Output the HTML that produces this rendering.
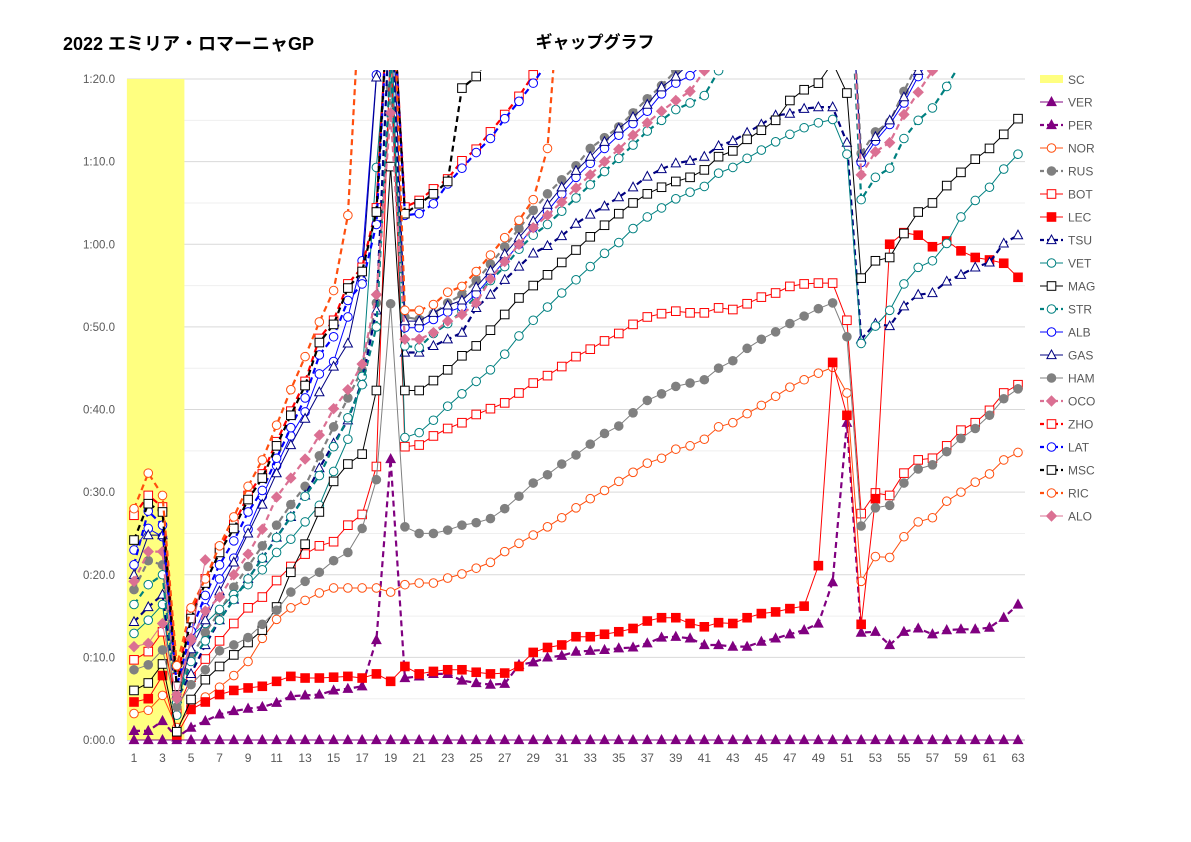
<!DOCTYPE html>
<html><head><meta charset="utf-8">
<style>
body{margin:0;background:#fff;}
svg{display:block;font-family:"Liberation Sans","Noto Sans CJK JP",sans-serif;}
</style></head>
<body>
<svg id="chart" width="1191" height="842" viewBox="0 0 1191 842">
<defs><clipPath id="plotclip"><rect x="110" y="70" width="930" height="690"/></clipPath></defs>
<text x="63" y="50" font-size="18" font-weight="bold" fill="#000">2022 エミリア・ロマーニャGP</text>
<text x="595" y="48" font-size="17" font-weight="bold" fill="#000" text-anchor="middle">ギャップグラフ</text>
<g id="grid"></g>
<g id="sc"></g>
<g id="series" clip-path="url(#plotclip)"></g>
<g id="axes"></g>
<g id="legend"></g>
</svg>
<script>
const laps=[];for(let i=1;i<=63;i++)laps.push(i);
const yTicks=[0,10,20,30,40,50,60,70,80];
const yTickLabels=["0:00.0","0:10.0","0:20.0","0:30.0","0:40.0","0:50.0","1:00.0","1:10.0","1:20.0"];
const scLaps=[1,2,3,4];
const scValue=80;
const N=null;
const VER=[0,0,0,0,0,0,0,0,0,0,0,0,0,0,0,0,0,0,0,0,0,0,0,0,0,0,0,0,0,0,0,0,0,0,0,0,0,0,0,0,0,0,0,0,0,0,0,0,0,0,0,0,0,0,0,0,0,0,0,0,0,0,0];
const PER=[1.1,1.1,2.3,0.3,1.5,2.3,3.1,3.5,3.8,4.0,4.5,5.3,5.4,5.5,6.0,6.2,6.5,12.1,34.0,7.5,7.7,8.0,8.0,7.2,6.9,6.7,6.8,9.1,9.4,10.0,10.2,10.7,10.8,10.9,11.1,11.2,11.7,12.4,12.5,12.3,11.5,11.5,11.3,11.3,11.9,12.3,12.8,13.3,14.1,19.1,38.4,13.0,13.1,11.5,13.1,13.5,12.8,13.3,13.4,13.4,13.6,14.8,16.4];
const NOR=[3.2,3.6,5.4,1.5,4.0,5.2,6.4,7.8,9.5,12.3,14.6,16.0,16.9,17.8,18.4,18.4,18.4,18.4,17.9,18.8,19.0,19.0,19.6,20.1,20.8,21.5,22.8,23.8,24.8,25.8,26.9,28.1,29.2,30.2,31.3,32.4,33.5,34.1,35.2,35.6,36.4,37.9,38.4,39.5,40.5,41.6,42.7,43.6,44.4,45.1,42.0,19.2,22.2,22.1,24.6,26.4,26.9,28.9,30.0,31.2,32.2,33.9,34.8];
const RUS=[18.2,21.7,21.2,5.5,10.0,13.0,15.5,18.5,21.0,23.5,26.0,28.5,30.7,34.4,37.9,41.4,44.8,52.9,78.9,51.2,50.9,51.6,52.9,53.9,55.6,57.6,59.7,61.9,64.1,66.1,67.8,69.5,71.6,72.9,74.2,75.9,77.6,79.2,81,N,N,N,N,N,N,N,N,N,N,N,100,71.0,73.6,74.8,78.5,82,N,N,N,N,N,N,N];
const BOT=[9.7,10.7,13.1,3.5,7.6,9.8,12.0,14.1,16.0,17.3,19.3,21.0,22.5,23.5,24.0,26.0,27.3,33.1,85,35.5,35.7,36.8,37.7,38.4,39.4,40.1,40.8,42.0,43.2,44.1,45.2,46.4,47.3,48.3,49.2,50.3,51.2,51.6,51.9,51.7,51.7,52.3,52.1,52.8,53.6,54.1,54.9,55.2,55.3,55.3,50.8,27.4,29.9,29.6,32.3,33.9,34.1,35.6,37.5,38.4,39.9,42.0,43.0];
const LEC=[4.6,5.0,7.8,0.6,3.7,4.6,5.5,6.0,6.3,6.5,7.1,7.7,7.5,7.5,7.6,7.7,7.5,8.0,7.1,8.9,8.0,8.3,8.5,8.5,8.2,8.0,8.1,8.9,10.6,11.2,11.5,12.5,12.5,12.8,13.1,13.5,14.4,14.8,14.8,14.1,13.7,14.2,14.1,14.8,15.3,15.5,15.9,16.2,21.1,45.7,39.3,14.0,29.2,60.0,61.4,61.1,59.7,60.4,59.2,58.4,58.1,57.7,56.0];
const TSU=[14.3,16.1,17.6,5.0,8.0,11.5,14.5,17.0,19.5,22.0,24.5,27.0,29.6,32.9,35.9,38.7,43.4,52,90,46.9,46.9,47.7,48.5,49.3,52.3,53.9,55.7,57.3,58.9,59.8,61.0,62.5,63.6,64.6,65.7,66.9,68.2,69.1,69.8,70.1,70.6,71.9,72.5,73.5,74.5,75.6,75.8,76.4,76.6,76.6,72.3,48.5,50.4,50.1,52.5,53.9,54.1,55.5,56.3,57.2,57.8,60.1,61.1];
const VET=[12.9,14.5,16.4,3.0,12.5,14.1,15.8,17.6,18.8,20.6,22.7,24.3,26.4,28.4,32.5,36.4,44.0,69.3,90,36.6,37.2,38.7,40.4,41.9,43.4,44.8,46.7,48.9,50.8,52.4,54.1,55.7,57.3,58.9,60.2,61.9,63.3,64.4,65.5,66.3,67.0,68.6,69.3,70.4,71.4,72.4,73.3,74.1,74.7,75.1,70.9,48.0,50.1,52.0,55.2,57.2,58.0,60.1,63.3,65.3,66.9,69.1,70.9];
const MAG=[6.0,6.9,9.2,1.0,4.9,7.3,8.9,10.3,11.8,13.3,16.1,20.3,23.7,27.6,31.3,33.4,34.6,42.3,69.4,42.3,42.3,43.5,44.8,46.5,47.7,49.6,51.5,53.5,55.0,56.3,57.8,59.3,60.9,62.3,63.7,65.0,66.1,66.9,67.6,68.1,69.0,70.6,71.3,72.7,73.8,75.0,77.4,78.7,79.5,82,78.3,55.9,58.0,58.4,61.3,63.9,65.0,67.1,68.7,70.3,71.6,73.3,75.2];
const STR=[16.4,18.8,20.0,4.5,9.5,12.0,14.5,17.0,19.5,22.0,24.5,27.0,29.5,32.0,35.5,39.0,43.0,50.0,82,47.7,47.5,49.2,50.4,51.9,53.7,55.6,57.3,59.4,61.1,62.4,64.0,65.6,67.2,68.8,70.4,72.0,73.7,75.0,76.3,77.1,78.0,81,N,N,N,N,N,N,N,N,100,65.4,68.1,69.2,72.8,75.0,76.5,79.1,82,N,N,N,N];
const ALB=[23.0,25.6,24.6,6.0,12.0,16.0,19.5,22.0,25.5,29.5,33.2,36.8,39.7,44.3,45.8,51.2,58.0,80.5,95,49.9,49.9,50.9,51.8,52.4,54.0,56.0,58.0,60.0,62.0,64.0,66.1,68.1,69.8,71.6,73.2,74.6,76.1,78.2,79.5,80.4,82,N,N,N,N,N,N,N,N,N,100,69.9,72.5,74.5,77.1,80.3,83,N,N,N,N,N,N];
const GAS=[20.0,24.8,24.8,5.5,11.0,14.5,18.0,21.5,25.0,28.5,32.3,35.7,38.9,42.1,45.2,48.0,56.0,80.2,95,50.7,50.7,51.7,52.6,53.2,54.8,56.8,58.8,60.8,62.8,64.8,66.9,68.9,70.6,72.4,74.0,75.4,76.9,79.0,80.3,82,N,N,N,N,N,N,N,N,N,N,100,70.5,73.0,75.0,77.8,81,N,N,N,N,N,N,N];
const HAM=[8.5,9.1,10.9,4.0,6.7,8.5,10.8,11.5,12.4,14.0,15.7,17.9,19.2,20.3,21.7,22.7,25.6,31.5,52.8,25.8,25.0,25.0,25.4,26.0,26.3,26.8,28.0,29.5,31.1,32.1,33.4,34.5,35.8,37.1,38.0,39.6,41.1,41.9,42.8,43.2,43.6,45.0,45.9,47.4,48.5,49.4,50.4,51.3,52.2,52.9,48.8,25.9,28.1,28.4,31.1,32.8,33.3,34.9,36.5,37.7,39.3,41.3,42.5];
const OCO=[19.2,22.8,22.8,5.5,12.0,15.6,17.3,20.0,22.5,25.5,29.4,31.7,34.0,36.9,40.1,42.4,45.5,53.9,75.9,48.5,48.5,49.3,50.7,51.5,52.9,55.8,57.9,60.0,62.0,63.5,65.1,66.8,68.4,70.0,71.5,73.2,74.7,76.1,77.4,78.5,81,N,N,N,N,N,N,N,N,N,100,68.4,71.2,72.3,75.7,78.4,81,N,N,N,N,N,N];
const ZHO=[27.2,29.6,28.2,7.5,15.2,19.5,23.2,26.1,29.6,32.2,36.1,39.8,43.4,48.6,50.8,55.2,57.2,64.4,95,64.5,65.3,66.7,67.9,70.1,71.5,73.6,75.7,77.9,80.5,83,N,N,N,N,N,N,N,N,N,N,N,N,N,N,N,N,N,N,N,N,N,N,N,N,N,N,N,N,N,N,N,N,N];
const LAT=[21.2,27.7,26.0,6.5,13.2,17.5,21.2,24.1,27.6,30.2,34.1,37.8,41.4,46.6,48.8,53.2,55.2,62.4,95,63.5,63.7,64.9,67.3,69.2,71.1,72.8,75.2,77.3,79.5,82,N,N,N,N,N,N,N,N,N,N,N,N,N,N,N,N,N,N,N,N,N,N,N,N,N,N,N,N,N,N,N,N,N];
const MSC=[24.2,28.6,27.6,6.5,14.7,19.0,22.7,25.6,29.1,31.7,35.6,39.3,42.9,48.1,50.3,54.7,56.7,63.9,95,63.7,64.9,66.1,67.6,78.9,80.3,83,N,N,N,N,N,N,N,N,N,N,N,N,N,N,N,N,N,N,N,N,N,N,N,N,N,N,N,N,N,N,N,N,N,N,N,N,N];
const RIC=[28.0,32.3,29.6,9.0,16.0,19.5,23.5,27.0,30.7,33.9,38.1,42.4,46.4,50.6,54.4,63.5,95,100,100,52.0,52.0,52.7,54.2,54.9,56.7,58.7,60.8,62.9,65.4,71.6,95,N,N,N,N,N,N,N,N,N,N,N,N,N,N,N,N,N,N,N,N,N,N,N,N,N,N,N,N,N,N,N,N];
const ALO=[11.3,11.7,14.1,5.0,12.3,21.8,N,N,N,N,N,N,N,N,N,N,N,N,N,N,N,N,N,N,N,N,N,N,N,N,N,N,N,N,N,N,N,N,N,N,N,N,N,N,N,N,N,N,N,N,N,N,N,N,N,N,N,N,N,N,N,N,N];

const NS="http://www.w3.org/2000/svg";
const X0=134,XSTEP=(1018-134)/62,Y0=740,YSCALE=(740-79)/80;
function xs(l){return X0+(l-1)*XSTEP;}
function ys(v){return Y0-v*YSCALE;}
function mk(tag,attrs,parent){const e=document.createElementNS(NS,tag);for(const k in attrs)e.setAttribute(k,attrs[k]);parent.appendChild(e);return e;}

const grid=document.getElementById('grid');
for(let v=5;v<=80;v+=10){
  const gl=mk('line',{x1:127,x2:1025,y1:ys(v),y2:ys(v),stroke:'#efefef','stroke-width':1},grid);
  
  
}
yTicks.forEach((v,i)=>{
  const gl=mk('line',{x1:127,x2:1025,y1:ys(v),y2:ys(v),stroke:v===0?'#bfbfbf':'#d9d9d9','stroke-width':1},grid);
  
  
  const t=mk('text',{x:115,y:ys(v)+4,'font-size':11.5,fill:'#595959','text-anchor':'end'},grid);
  t.textContent=yTickLabels[i];
  
  
});
const axes=document.getElementById('axes');
laps.forEach(l=>{
  if(l%2===1){
    const t=mk('text',{x:xs(l),y:762,'font-size':12,fill:'#595959','text-anchor':'middle'},axes);
    t.textContent=String(l);
    
    
  }
});
const sc=document.getElementById('sc');
scLaps.forEach(l=>{
  const r=mk('rect',{x:xs(l)-XSTEP/2,y:ys(scValue),width:XSTEP+0.5,height:ys(0)-ys(scValue),fill:'#ffff80'},sc);
  
  
});

const series=[
 {name:'VER',data:VER,color:'#800080',dash:false,marker:'tri',fill:true},
 {name:'PER',data:PER,color:'#800080',dash:true,marker:'tri',fill:true},
 {name:'NOR',data:NOR,color:'#ff4f0f',dash:false,marker:'circle',fill:false},
 {name:'RUS',data:RUS,color:'#808080',dash:true,marker:'circle',fill:true},
 {name:'BOT',data:BOT,color:'#ff0000',dash:false,marker:'square',fill:false},
 {name:'LEC',data:LEC,color:'#ff0000',dash:false,marker:'square',fill:true},
 {name:'TSU',data:TSU,color:'#000080',dash:true,marker:'tri',fill:false},
 {name:'VET',data:VET,color:'#008080',dash:false,marker:'circle',fill:false},
 {name:'MAG',data:MAG,color:'#000000',dash:false,marker:'square',fill:false},
 {name:'STR',data:STR,color:'#008080',dash:true,marker:'circle',fill:false},
 {name:'ALB',data:ALB,color:'#0000ff',dash:false,marker:'circle',fill:false},
 {name:'GAS',data:GAS,color:'#000080',dash:false,marker:'tri',fill:false},
 {name:'HAM',data:HAM,color:'#808080',dash:false,marker:'circle',fill:true},
 {name:'OCO',data:OCO,color:'#db7093',dash:true,marker:'diamond',fill:true},
 {name:'ZHO',data:ZHO,color:'#ff0000',dash:true,marker:'square',fill:false},
 {name:'LAT',data:LAT,color:'#0000ff',dash:true,marker:'circle',fill:false},
 {name:'MSC',data:MSC,color:'#000000',dash:true,marker:'square',fill:false},
 {name:'RIC',data:RIC,color:'#ff4f0f',dash:true,marker:'circle',fill:false},
 {name:'ALO',data:ALO,color:'#db7093',dash:false,marker:'diamond',fill:true}
];
function marker(g,type,cx,cy,color,fill){
  const f=fill?color:'#fff';let e;
  if(type==='circle')e=mk('circle',{cx:cx,cy:cy,r:4.3,fill:f,stroke:color,'stroke-width':1},g);
  else if(type==='square')e=mk('rect',{x:cx-4.3,y:cy-4.3,width:8.6,height:8.6,fill:f,stroke:color,'stroke-width':1},g);
  else if(type==='tri')e=mk('polygon',{points:`${cx},${cy-5} ${cx-4.6},${cy+3.6} ${cx+4.6},${cy+3.6}`,fill:f,stroke:color,'stroke-width':1},g);
  else e=mk('polygon',{points:`${cx},${cy-5} ${cx+5},${cy} ${cx},${cy+5} ${cx-5},${cy}`,fill:f,stroke:color,'stroke-width':1},g);
  return e;
}
const sg=document.getElementById('series');
series.forEach(s=>{
  const g=mk('g',{},sg);
  
  
  let d='',pen=false;
  s.data.forEach((v,i)=>{
    if(v===null){pen=false;return;}
    d+=(pen?'L':'M')+xs(laps[i]).toFixed(1)+' '+ys(v).toFixed(1)+' ';pen=true;
  });
  const p=mk('path',{d:d,fill:'none',stroke:s.color,'stroke-width':s.dash?2.2:1,'stroke-dasharray':s.dash?'6 4':'none'},g);
  
  
  s.data.forEach((v,i)=>{
    if(v===null||v>82)return;
    const m=marker(g,s.marker,xs(laps[i]),ys(v),s.color,s.fill);
    
    
  });
});
const lg=document.getElementById('legend');
const scl=mk('rect',{x:1040,y:75,width:23,height:8,fill:'#ffff80'},lg);


const sct=mk('text',{x:1068,y:84,'font-size':12,fill:'#595959'},lg);
sct.textContent='SC';


series.forEach((s,i)=>{
  const yy=102+i*23.0;
  const g=mk('g',{},lg);
  
  
  mk('line',{x1:1040,x2:1063,y1:yy,y2:yy,stroke:s.color,'stroke-width':s.dash?2.2:1,'stroke-dasharray':s.dash?'4 3':'none'},g);
  marker(g,s.marker,1051.5,yy,s.color,s.fill);
  const t=mk('text',{x:1068,y:yy+4.5,'font-size':12,fill:'#595959'},g);
  t.textContent=s.name;
});
</script>
</body></html>
